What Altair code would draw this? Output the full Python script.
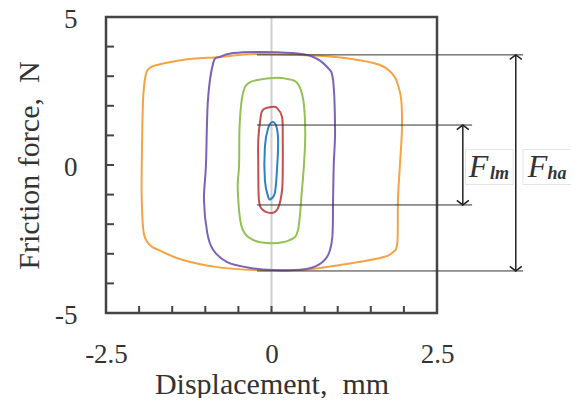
import altair as alt
import pandas as pd

# ---------------- data ----------------
orange_x = [-1.84, -1.90, -1.94, -1.96, -1.96, -1.93, -1.84, -1.71, -1.34, -0.82, -0.22, 0.43, 1.03, 1.64, 1.82, 1.90,
            1.91, 1.94, 1.97, 1.96, 1.91, 1.84, 1.64, 1.14, 0.63, -0.22, -0.78, -1.34, -1.73]
orange_y = [3.28, 3.04, 2.20, 0.00, -1.18, -2.30, -2.70, -2.87, -3.21, -3.45, -3.55, -3.55, -3.38, -3.14, -2.97, -2.64,
            -1.18, 0.00, 1.18, 2.20, 2.70, 3.04, 3.38, 3.61, 3.70, 3.75, 3.65, 3.55, 3.38]

purple_x = [-0.22, -0.58, -0.78, -0.88, -0.96, -0.99, -1.02, -0.97, -0.88, -0.67, -0.32, 0.01, 0.50, 0.72, 0.86, 0.92,
            0.93, 0.94, 0.96, 0.93, 0.84, 0.63, 0.32]
purple_y = [3.82, 3.78, 3.65, 3.45, 2.20, 0.00, -1.18, -2.30, -2.87, -3.28, -3.48, -3.55, -3.52, -3.36, -3.02, -2.40,
            -1.18, 0.00, 1.18, 2.87, 3.31, 3.65, 3.78]

green_x = [0.02, -0.32, -0.43, -0.48, -0.49, -0.51, -0.45, -0.28, 0.02, 0.28, 0.40, 0.46, 0.49, 0.51, 0.48, 0.39, 0.23]
green_y = [2.94, 2.80, 2.43, 1.42, 0.00, -0.84, -2.09, -2.53, -2.64, -2.53, -2.20, -0.84, 0.00, 1.08, 2.20, 2.77, 2.91]

red_x = [0.01, -0.13, -0.17, -0.20, -0.20, -0.19, -0.13, 0.01, 0.10, 0.16, 0.17, 0.17, 0.16, 0.08]
red_y = [1.96, 1.86, 1.52, 0.84, 0.00, -1.18, -1.52, -1.62, -1.45, -0.84, 0.00, 0.84, 1.62, 1.93]

blue_x = [0.02, -0.05, -0.10, -0.10, -0.05, -0.01, 0.05, 0.08, 0.10, 0.08]
blue_y = [1.45, 1.25, 0.61, -0.51, -1.08, -1.15, -0.95, -0.27, 0.74, 1.25]

loop_names = ["orange", "purple", "green", "red", "blue"]
loop_colors = ["#f5a343", "#7b62b8", "#93c152", "#c4504c", "#2f80c6"]

x_label_values = [-2.5, 0, 2.5]
y_label_values = [-5, 0, 5]
x_minor_ticks = [-2, -1.5, -1, -0.5, 0, 0.5, 1, 1.5, 2]
y_minor_ticks = [-4, -3, -2, -1, 0, 1, 2, 3, 4]
frame_x = [-2.5, 2.5]
frame_y = [-5, 5]

# annotation: horizontal guide lines
guide_y = [3.72, -3.58, 1.35, -1.35]
guide_x1 = [-0.22, -0.22, -0.22, -0.22]
guide_x2 = [3.80, 3.80, 3.03, 3.03]
# double arrows
arrow_x = [3.69, 2.89]
arrow_top = [3.72, 1.35]
arrow_bottom = [-3.58, -1.35]
# labels
label_box_x1 = [2.93, 3.80]
label_box_x2 = [3.65, 4.60]
label_box_y1 = [0.52, 0.52]
label_box_y2 = [-0.66, -0.66]
label_main = ["F", "F"]
label_main_x = [2.98, 3.87]
label_sub = ["lm", "ha"]
label_sub_x = [3.30, 4.17]
label_y = [-0.41, -0.41]
label_sub_y = [-0.46, -0.46]

# ---------------- tables ----------------
rows = []
for name, xs, ys in zip(loop_names, [orange_x, purple_x, green_x, red_x, blue_x],
                        [orange_y, purple_y, green_y, red_y, blue_y]):
    for i, (xv, yv) in enumerate(zip(xs, ys)):
        rows.append({"loop": name, "i": i, "x": xv, "y": yv})
loops = pd.DataFrame(rows)

guides = pd.DataFrame({"y": guide_y, "x": guide_x1, "x2": guide_x2})
arrows = pd.DataFrame({"x": arrow_x, "top": arrow_top, "bottom": arrow_bottom})
boxes = pd.DataFrame({"x": label_box_x1, "x2": label_box_x2, "y": label_box_y1, "y2": label_box_y2})
labels = pd.DataFrame({"main": label_main, "mx": label_main_x, "sub": label_sub, "sx": label_sub_x,
                       "y": label_y, "sy": label_sub_y})
zero_line = pd.DataFrame({"x": [0], "y": [5], "y2": [-5]})
frame = pd.DataFrame({"x": [frame_x[0]], "x2": [frame_x[1]], "y": [frame_y[0]], "y2": [frame_y[1]]})
xt = pd.DataFrame({"x": x_minor_ticks})
yt = pd.DataFrame({"y": y_minor_ticks})

FONT = "Liberation Serif"
xscale = alt.Scale(domain=[-2.5, 2.5], nice=False, zero=False)
yscale = alt.Scale(domain=[-5, 5], nice=False, zero=False)

LABEL_EXPR = "datum.value == 0 ? '0' : (datum.value < 0 ? '-' : '') + format(abs(datum.value), '~g')"

xaxis = alt.Axis(values=x_label_values, ticks=False, tickSize=0, domain=False, grid=False,
                 labelFont=FONT, labelFontSize=27, labelColor="#333333", labelPadding=28,
                 labelFlush=False, labelOverlap=False, labelExpr=LABEL_EXPR,
                 title="Displacement,\u00a0\u00a0mm", titleFont=FONT, titleFontSize=30,
                 titleFontWeight="normal", titleColor="#333333",
                 titleBaseline="alphabetic", titleAnchor="middle", titleY=80)
yaxis = alt.Axis(values=y_label_values, ticks=False, tickSize=0, domain=False, grid=False,
                 labelFont=FONT, labelFontSize=27, labelColor="#333333", labelPadding=29,
                 labelFlush=False, labelOverlap=False, labelExpr=LABEL_EXPR, labelOffset=2,
                 title="Friction force,\u00a0\u00a0N", titleFont=FONT, titleFontSize=30,
                 titleFontWeight="normal", titleColor="#333333",
                 titleBaseline="alphabetic", titleAngle=-90, titleAlign="center",
                 titleX=-68, titleY=148)

zero = alt.Chart(zero_line).mark_rule(color="#cfcfcf", strokeWidth=2).encode(
    x=alt.X("x:Q", scale=xscale, axis=xaxis),
    y=alt.Y("y:Q", scale=yscale, axis=yaxis),
    y2="y2:Q",
)

loop_lines = alt.Chart(loops).mark_line(strokeWidth=2, interpolate="cardinal-closed").encode(
    x=alt.X("x:Q", scale=xscale),
    y=alt.Y("y:Q", scale=yscale),
    color=alt.Color("loop:N", scale=alt.Scale(domain=loop_names, range=loop_colors), legend=None),
    detail="loop:N",
    order="i:Q",
)

frame_rect = alt.Chart(frame).mark_rect(fill=None, filled=False, stroke="#454545", strokeWidth=2.5).encode(
    x=alt.X("x:Q", scale=xscale), x2="x2:Q", y=alt.Y("y:Q", scale=yscale), y2="y2:Q")

x_ticks = alt.Chart(xt).mark_rule(color="#454545", strokeWidth=2).encode(
    x=alt.X("x:Q", scale=xscale), y=alt.value(296), y2=alt.value(289))
y_ticks = alt.Chart(yt).mark_rule(color="#454545", strokeWidth=2).encode(
    y=alt.Y("y:Q", scale=yscale), x=alt.value(0), x2=alt.value(8))

box_marks = alt.Chart(boxes).mark_rect(fill="white", stroke="#e4e4e4", strokeWidth=1).encode(
    x=alt.X("x:Q", scale=xscale), x2="x2:Q", y=alt.Y("y:Q", scale=yscale), y2="y2:Q")

guide_lines = alt.Chart(guides).mark_rule(color="#333333", strokeWidth=1).encode(
    x=alt.X("x:Q", scale=xscale), x2="x2:Q", y=alt.Y("y:Q", scale=yscale))

arrow_lines = alt.Chart(arrows).mark_rule(color="#222222", strokeWidth=1.5).encode(
    x=alt.X("x:Q", scale=xscale), y=alt.Y("top:Q", scale=yscale), y2="bottom:Q")
head_up = alt.Chart(arrows).mark_point(shape="M -1 0.75 L 0 0 L 1 0.75", filled=False, size=144,
                                       stroke="#222222", strokeWidth=1.5, opacity=1).encode(
    x=alt.X("x:Q", scale=xscale), y=alt.Y("top:Q", scale=yscale))
head_down = alt.Chart(arrows).mark_point(shape="M -1 -0.75 L 0 0 L 1 -0.75", filled=False, size=144,
                                         stroke="#222222", strokeWidth=1.5, opacity=1).encode(
    x=alt.X("x:Q", scale=xscale), y=alt.Y("bottom:Q", scale=yscale))

main_text = alt.Chart(labels).mark_text(font=FONT, fontSize=32, fontStyle="italic", align="left",
                                        baseline="alphabetic", color="#333333").encode(
    x=alt.X("mx:Q", scale=xscale), y=alt.Y("y:Q", scale=yscale), text="main:N")
sub_text = alt.Chart(labels).mark_text(font=FONT, fontSize=18, fontStyle="italic", fontWeight="bold",
                                       align="left", baseline="alphabetic", color="#333333").encode(
    x=alt.X("sx:Q", scale=xscale), y=alt.Y("sy:Q", scale=yscale), text="sub:N")

chart = alt.layer(
    zero, loop_lines, frame_rect, x_ticks, y_ticks, box_marks, guide_lines, arrow_lines, head_up, head_down,
    main_text, sub_text,
).properties(
    width=331, height=296,
    background="white",
    autosize=alt.AutoSizeParams(type="none"),
    padding={"left": 98, "top": 9, "right": 134, "bottom": 85},
).configure_view(
    stroke=None
).configure_axis(
    labelFont=FONT, titleFont=FONT
)

chart.save("out.html", embed_options={"renderer": "svg", "actions": False})
